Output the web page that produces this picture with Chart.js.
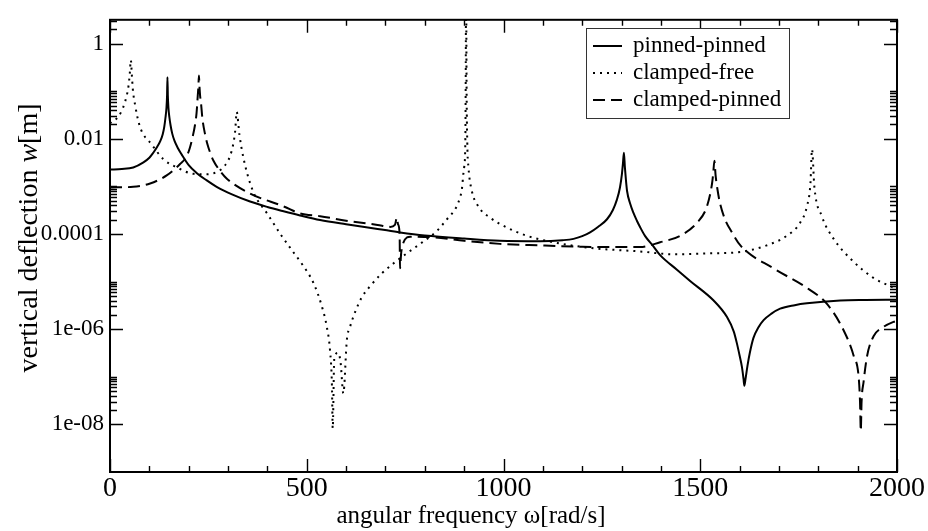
<!DOCTYPE html>
<html lang="en">
<head>
    <meta charset="UTF-8">
    <title>Vertical deflection vs angular frequency</title>
    <script src="https://cdn.jsdelivr.net/npm/chart.js"></script>
    <style>
        body { margin: 0; background: #fff; }
        #wrap { width: 928px; height: 531px; }
    </style>
</head>
<body>
    <div id="wrap"><canvas id="chart" width="928" height="531"></canvas></div>

    <script>
        // angular frequency [rad/s] and deflection [m]
        const ppX = [0, 30, 59, 85, 100, 110, 120, 128, 134, 138, 141, 143.5, 145, 146, 147, 148.5, 151, 154, 158, 164, 172, 182, 200, 220, 245, 271, 310, 356, 400, 441, 483, 534, 600, 680, 737, 800, 900, 991, 1093, 1150, 1178, 1200, 1220, 1240, 1263, 1278, 1288, 1296, 1301, 1303.5, 1306, 1308.5, 1311, 1314, 1322, 1330, 1339, 1347, 1360, 1381, 1398, 1440, 1475, 1534, 1568, 1585, 1593, 1600, 1606, 1610, 1612, 1615, 1620, 1626, 1635, 1648, 1661, 1680, 1703, 1740, 1771, 1856, 1920, 2000];
        const ppY = [2.26e-3, 2.32e-3, 2.5e-3, 3.2e-3, 4.0e-3, 5.1e-3, 6.8e-3, 9.0e-3, 1.25e-2, 1.8e-2, 2.8e-2, 4.5e-2, 8.0e-2, 0.197, 8.0e-2, 4.5e-2, 2.8e-2, 1.9e-2, 1.3e-2, 9.0e-3, 6.5e-3, 4.7e-3, 2.8e-3, 1.92e-3, 1.35e-3, 9.8e-4, 6.8e-4, 4.8e-4, 3.7e-4, 3.0e-4, 2.45e-4, 1.96e-4, 1.6e-4, 1.28e-4, 1.08e-4, 9.3e-5, 8.0e-5, 7.2e-5, 7.05e-5, 7.4e-5, 7.9e-5, 9.0e-5, 1.08e-4, 1.4e-4, 2.04e-4, 3.2e-4, 5.2e-4, 9.5e-4, 1.84e-3, 3.0e-3, 5.1e-3, 2.5e-3, 1.4e-3, 8.0e-4, 4.3e-4, 2.8e-4, 1.9e-4, 1.4e-4, 9.0e-5, 5.5e-5, 3.6e-5, 1.8e-5, 1.02e-5, 4.0e-6, 1.8e-6, 9.0e-7, 5.1e-7, 2.8e-7, 1.6e-7, 9.0e-8, 6.5e-8, 9.0e-8, 1.7e-7, 3.2e-7, 6.5e-7, 1.1e-6, 1.55e-6, 2.1e-6, 2.7e-6, 3.2e-6, 3.5e-6, 4.0e-6, 4.1e-6, 4.15e-6];

        const cfX = [0, 5, 21, 38, 47, 50, 53, 55.5, 58, 64, 76, 106, 136, 170, 212, 246, 271, 292, 309, 318, 322, 329, 339, 364, 398, 436, 462, 487, 517, 538, 551, 559, 564, 566, 570, 580, 586, 593, 602, 610, 623, 640, 661, 691, 720, 754, 788, 831, 856, 881, 890, 894, 898, 900, 903, 904, 905, 906, 908, 911, 919, 936, 966, 1009, 1059, 1127, 1220, 1347, 1432, 1517, 1602, 1669, 1720, 1754, 1771, 1780, 1784, 1790, 1809, 1839, 1890, 1940, 1983, 2000];
        const cfY = [0.021, 0.023, 0.029, 0.059, 0.128, 0.22, 0.45, 0.22, 0.11, 0.05, 0.018, 7.6e-3, 3.7e-3, 2.5e-3, 1.84e-3, 1.8e-3, 2.0e-3, 2.74e-3, 5.5e-3, 0.0143, 0.0367, 0.0121, 4.0e-3, 7.7e-4, 2.8e-4, 9.2e-5, 4.6e-5, 2.4e-5, 9.4e-6, 3.1e-6, 1.12e-6, 3.7e-7, 6.6e-8, 8.3e-9, 2.5e-7, 3.2e-7, 2.0e-7, 4.5e-8, 6.0e-7, 1.12e-6, 2.3e-6, 4.7e-6, 8.0e-6, 1.5e-5, 2.4e-5, 3.9e-5, 6.2e-5, 1.17e-4, 2.03e-4, 3.8e-4, 6.1e-4, 8.4e-4, 1.84e-3, 2.5e-3, 8.9e-3, 0.2, 30, 0.2, 8.0e-3, 2.5e-3, 8.4e-4, 3.8e-4, 2.2e-4, 1.36e-4, 9.2e-5, 6.7e-5, 5.1e-5, 4.3e-5, 3.75e-5, 3.9e-5, 4.2e-5, 5.75e-5, 9.2e-5, 1.73e-4, 3.8e-4, 1.15e-3, 6.0e-3, 9.8e-4, 2.37e-4, 7.9e-5, 2.6e-5, 1.2e-5, 8.0e-6, 7.0e-6];

        const cpX = [0, 59, 102, 144, 178, 195, 203, 210, 216, 220, 223, 224.5, 226, 227.5, 229, 231, 235, 242, 248, 255, 263, 280, 297, 356, 441, 483, 534, 600, 680, 712, 724, 729, 732, 736, 737, 740, 746, 755, 763, 822, 900, 991, 1093, 1200, 1347, 1398, 1449, 1492, 1517, 1530, 1533, 1536, 1539, 1544, 1550, 1563, 1580, 1602, 1686, 1771, 1822, 1864, 1890, 1903, 1906, 1908, 1910, 1915, 1924, 1940, 1966, 1991, 2000];
        const cpY = [9.5e-4, 9.8e-4, 1.15e-3, 1.7e-3, 2.95e-3, 4.3e-3, 6.5e-3, 1.1e-2, 1.95e-2, 3.5e-2, 8.0e-2, 0.12, 0.213, 0.12, 8.0e-2, 5.9e-2, 2.6e-2, 1.2e-2, 7.5e-3, 5.0e-3, 3.45e-3, 2.1e-3, 1.45e-3, 7.1e-4, 3.8e-4, 2.7e-4, 2.37e-4, 1.9e-4, 1.55e-4, 1.41e-4, 1.55e-4, 2.2e-4, 1.6e-4, 1.0e-4, 1.9e-5, 4.0e-5, 6.7e-5, 8.5e-5, 8.8e-5, 8.5e-5, 7.2e-5, 6.2e-5, 5.75e-5, 5.4e-5, 5.3e-5, 6.7e-5, 9.2e-5, 1.73e-4, 3.8e-4, 1.15e-3, 1.9e-3, 3.45e-3, 1.7e-3, 8.4e-4, 4.5e-4, 2.03e-4, 1.1e-4, 5.75e-5, 1.9e-5, 7.4e-6, 3.4e-6, 9.6e-7, 2.74e-7, 9.0e-8, 3.0e-8, 7.3e-9, 3.0e-8, 7.7e-8, 2.74e-7, 7.0e-7, 1.12e-6, 1.42e-6, 1.5e-6];

        const seriesNames = ['pinned-pinned', 'clamped-free', 'clamped-pinned'];
        const xTicks = [0, 500, 1000, 1500, 2000];
        const yTickValues = [1e-8, 1e-6, 1e-4, 1e-2, 1];
        const yTickLabels = ['1e-08', '1e-06', '0.0001', '0.01', '1'];

        const FONT = "'Liberation Serif', 'DejaVu Serif', serif";
        Chart.defaults.font.family = FONT;
        Chart.defaults.color = '#000';

        function pts(xs, ys) {
            return xs.map((x, i) => ({ x: x, y: ys[i] }));
        }

        // inward ticks on all four sides plus the box
        const frameTicks = {
            id: 'frameTicks',
            afterDatasetsDraw(chart) {
                const { ctx, chartArea: a, scales: { x, y } } = chart;
                ctx.save();
                ctx.strokeStyle = '#000';
                ctx.lineWidth = 1.4;
                ctx.beginPath();
                for (let v = 0; v <= 2000; v += 100) {
                    const px = Math.round(x.getPixelForValue(v)) + 0.5;
                    const len = xTicks.includes(v) ? 13 : 6;
                    ctx.moveTo(px, a.bottom); ctx.lineTo(px, a.bottom - len);
                    ctx.moveTo(px, a.top); ctx.lineTo(px, a.top + len);
                }
                yTickValues.forEach(v => {
                    const py = Math.round(y.getPixelForValue(v)) + 0.5;
                    ctx.moveTo(a.left, py); ctx.lineTo(a.left + 13, py);
                    ctx.moveTo(a.right, py); ctx.lineTo(a.right - 13, py);
                    for (let n = 2; n <= 10; n++) {
                        const mv = v * n;
                        if (mv > y.max) break;
                        const my = Math.round(y.getPixelForValue(mv)) + 0.5;
                        ctx.moveTo(a.left, my); ctx.lineTo(a.left + 7, my);
                        ctx.moveTo(a.right, my); ctx.lineTo(a.right - 7, my);
                    }
                });
                ctx.stroke();
                ctx.lineWidth = 2;
                ctx.strokeRect(a.left, a.top, a.right - a.left, a.bottom - a.top);
                ctx.restore();
            }
        };

        // boxed legend in the upper right, axis titles (w in italics)
        const extras = {
            id: 'extras',
            afterDraw(chart) {
                const ctx = chart.ctx;
                const bx = 586, by = 28, bw = 203, bh = 90;
                ctx.save();
                ctx.fillStyle = '#fff';
                ctx.fillRect(bx, by, bw, bh);
                ctx.strokeStyle = '#333';
                ctx.lineWidth = 1;
                ctx.strokeRect(bx + 0.5, by + 0.5, bw, bh);
                ctx.font = '23px ' + FONT;
                ctx.textBaseline = 'middle';
                ctx.fillStyle = '#000';
                chart.data.datasets.forEach((ds, i) => {
                    const yy = by + 18 + i * 27;
                    ctx.beginPath();
                    ctx.strokeStyle = ds.borderColor;
                    ctx.lineWidth = ds.borderWidth;
                    ctx.setLineDash(ds.borderDash || []);
                    ctx.moveTo(bx + 7, yy);
                    ctx.lineTo(bx + 36, yy);
                    ctx.stroke();
                    ctx.setLineDash([]);
                    ctx.fillText(ds.label, bx + 47, yy);
                });

                // x title
                ctx.font = '25px ' + FONT;
                ctx.textAlign = 'center';
                ctx.fillText('angular frequency ω[rad/s]', 471, 516);

                // y title, rotated
                const parts = [['vertical deflection ', ''], ['w', 'italic '], ['[m]', '']];
                let total = 0;
                parts.forEach(p => { ctx.font = p[1] + '28px ' + FONT; p.push(ctx.measureText(p[0]).width); total += p[2]; });
                ctx.translate(30, 238);
                ctx.rotate(-Math.PI / 2);
                ctx.textAlign = 'left';
                let cx = -total / 2;
                parts.forEach(p => { ctx.font = p[1] + '28px ' + FONT; ctx.fillText(p[0], cx, 0); cx += p[2]; });
                ctx.restore();
            }
        };

        new Chart(document.getElementById('chart'), {
            type: 'line',
            data: {
                datasets: [
                    { label: seriesNames[0], data: pts(ppX, ppY), borderColor: '#000', borderWidth: 2, borderDash: [] },
                    { label: seriesNames[1], data: pts(cfX, cfY), borderColor: '#000', borderWidth: 2, borderDash: [2, 5] },
                    { label: seriesNames[2], data: pts(cpX, cpY), borderColor: '#000', borderWidth: 2, borderDash: [12, 6] }
                ]
            },
            options: {
                responsive: false,
                animation: false,
                parsing: false,
                elements: { point: { radius: 0 }, line: { cubicInterpolationMode: 'monotone' } },
                layout: { padding: { left: 0, right: 31, top: 9, bottom: 0 } },
                plugins: { legend: { display: false }, tooltip: { enabled: false } },
                scales: {
                    x: {
                        type: 'linear',
                        min: 0,
                        max: 2000,
                        afterBuildTicks: s => { s.ticks = xTicks.map(v => ({ value: v })); },
                        afterFit: s => { s.height = 59; },
                        grid: { display: false, drawTicks: false },
                        border: { display: false },
                        ticks: { font: { size: 28 }, padding: 0, maxRotation: 0, callback: v => String(v) }
                    },
                    y: {
                        type: 'logarithmic',
                        min: 1e-9,
                        max: 3.16,
                        afterBuildTicks: s => { s.ticks = yTickValues.map(v => ({ value: v })); },
                        afterFit: s => { s.width = 110; },
                        grid: { display: false, drawTicks: false },
                        border: { display: false },
                        ticks: {
                            font: { size: 23 },
                            padding: 6,
                            callback: v => yTickLabels[yTickValues.indexOf(v)]
                        }
                    }
                }
            },
            plugins: [frameTicks, extras]
        });
    </script>
</body>
</html>
